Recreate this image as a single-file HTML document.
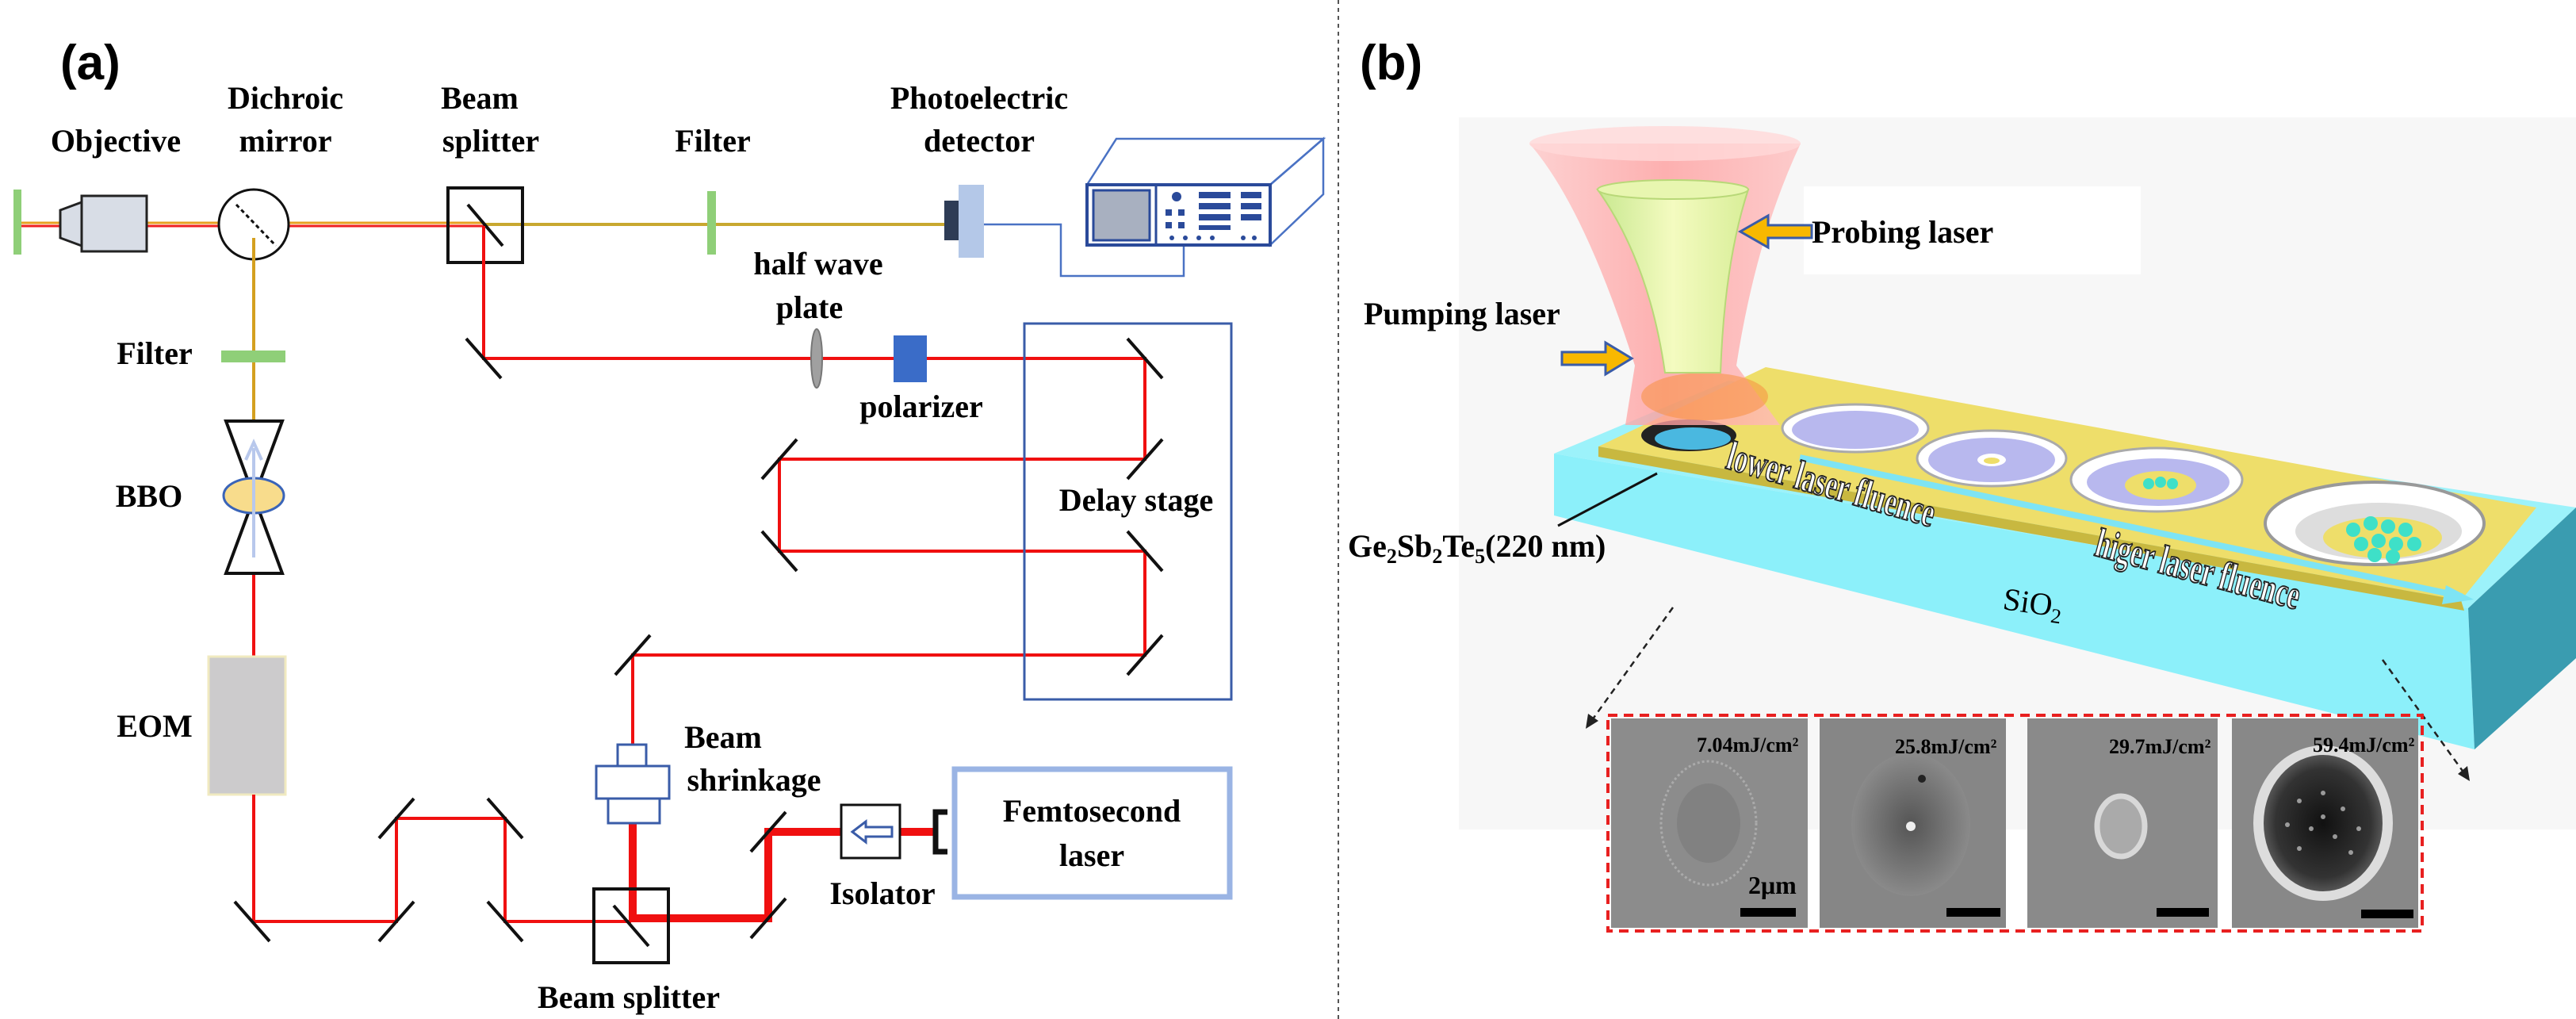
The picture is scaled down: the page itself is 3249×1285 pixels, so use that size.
<!DOCTYPE html>
<html><head><meta charset="utf-8"><style>html,body{margin:0;padding:0;background:#fff}svg{display:block}</style></head>
<body>
<svg width="3249" height="1285" viewBox="0 0 3249 1285" xmlns="http://www.w3.org/2000/svg" font-family="'Liberation Serif',serif" font-weight="bold">
<defs>
<linearGradient id="pink" x1="0" x2="1"><stop offset="0" stop-color="#ffc8c8"/><stop offset="0.5" stop-color="#ff9e9e"/><stop offset="1" stop-color="#ffc0c0"/></linearGradient>
<linearGradient id="grn" x1="0" x2="1"><stop offset="0" stop-color="#c8e890"/><stop offset="0.5" stop-color="#f4fbc0"/><stop offset="1" stop-color="#d8ee98"/></linearGradient>
<radialGradient id="dk"><stop offset="0" stop-color="#111"/><stop offset="0.8" stop-color="#333"/><stop offset="1" stop-color="#555"/></radialGradient>
<radialGradient id="sem2"><stop offset="0" stop-color="#555"/><stop offset="1" stop-color="#8a8a8a"/></radialGradient>
</defs>
<!-- ===== Panel (a) ===== -->
<text x="76" y="100" font-family="'Liberation Sans',sans-serif" font-size="62">(a)</text>
<g font-size="40" text-anchor="middle">
<text x="146" y="191">Objective</text>
<text x="360" y="137">Dichroic</text><text x="360" y="191">mirror</text>
<text x="605" y="137">Beam</text><text x="619" y="191">splitter</text>
<text x="899" y="191">Filter</text>
<text x="1235" y="137">Photoelectric</text><text x="1235" y="191">detector</text>
<text x="195" y="459">Filter</text>
<text x="188" y="639">BBO</text>
<text x="195" y="929">EOM</text>
<text x="1032" y="346">half wave</text><text x="1021" y="401">plate</text>
<text x="1162" y="526">polarizer</text>
<text x="1433" y="644">Delay stage</text>
<text x="912" y="943">Beam</text><text x="951" y="997">shrinkage</text>
<text x="1113" y="1140">Isolator</text>
<text x="1377" y="1036">Femtosecond</text><text x="1377" y="1092">laser</text>
<text x="793" y="1271">Beam splitter</text>
</g>
<!-- top beam -->
<line x1="22" y1="281" x2="610" y2="281" stroke="#e8a020" stroke-width="3"/>
<line x1="22" y1="285" x2="610" y2="285" stroke="#f02020" stroke-width="3"/>
<line x1="610" y1="283" x2="1191" y2="283" stroke="#c8a830" stroke-width="4"/>
<rect x="17" y="239" width="10" height="82" fill="#8fcf78"/>
<polygon points="76,265 103,255 103,310 76,300" fill="#d8dde6" stroke="#222" stroke-width="3"/>
<rect x="103" y="247" width="82" height="70" fill="#d8dde6" stroke="#222" stroke-width="3"/>
<circle cx="320" cy="283" r="44" fill="#fff" stroke="#111" stroke-width="3"/>
<line x1="298" y1="258" x2="348" y2="310" stroke="#111" stroke-width="3" stroke-dasharray="5,4"/>
<rect x="565" y="237" width="94" height="94" fill="none" stroke="#111" stroke-width="4"/>
<line x1="590" y1="258" x2="634" y2="310" stroke="#111" stroke-width="4"/>
<rect x="892" y="241" width="11" height="80" fill="#8fcf78"/>
<rect x="1191" y="253" width="18" height="50" fill="#2e3c56"/>
<rect x="1209" y="233" width="32" height="92" fill="#b4c8e8"/>
<!-- instrument -->
<g stroke="#4a72c4" stroke-width="2.5" fill="none">
<polygon points="1371,233 1408,175 1669,175 1602,233"/>
<polygon points="1602,233 1669,175 1669,245 1602,309"/>
<polyline points="1241,283 1338,283 1338,348 1493,348 1493,309"/>
</g>
<rect x="1371" y="233" width="231" height="76" fill="#fff" stroke="#2a4a9a" stroke-width="4"/>
<rect x="1379" y="240" width="71" height="63" fill="#a8b0c0" stroke="#2a4a9a" stroke-width="3"/>
<line x1="1458" y1="233" x2="1458" y2="309" stroke="#2a4a9a" stroke-width="3"/>
<g fill="#2a4a9a">
<circle cx="1484" cy="248" r="6"/>
<rect x="1512" y="242" width="40" height="8"/><rect x="1512" y="256" width="40" height="8"/><rect x="1512" y="270" width="40" height="8"/><rect x="1512" y="284" width="40" height="6"/>
<rect x="1565" y="242" width="26" height="8"/><rect x="1565" y="256" width="26" height="8"/><rect x="1565" y="270" width="26" height="8"/>
<rect x="1470" y="264" width="8" height="8"/><rect x="1486" y="264" width="8" height="8"/><rect x="1470" y="280" width="8" height="8"/><rect x="1486" y="280" width="8" height="8"/>
<circle cx="1478" cy="300" r="3"/><circle cx="1495" cy="300" r="3"/><circle cx="1512" cy="300" r="3"/><circle cx="1529" cy="300" r="3"/><circle cx="1568" cy="300" r="3"/><circle cx="1582" cy="300" r="3"/>
</g>
<!-- vertical yellow + lower column -->
<line x1="320" y1="300" x2="320" y2="531" stroke="#d4a020" stroke-width="4"/>
<rect x="279" y="442" width="81" height="15" fill="#8fcf78"/>
<line x1="320" y1="723" x2="320" y2="828" stroke="#f01010" stroke-width="4"/>
<polygon points="285,531 356,531 285,723 356,723" fill="#fff" stroke="#111" stroke-width="4"/>
<ellipse cx="320" cy="625" rx="38" ry="22" fill="#f8dc8c" stroke="#3a64b8" stroke-width="3"/>
<line x1="320" y1="703" x2="320" y2="565" stroke="#b8c8ec" stroke-width="4"/>
<polyline points="310,580 320,558 330,580" fill="none" stroke="#b8c8ec" stroke-width="4"/>
<rect x="263" y="828" width="97" height="174" fill="#cccbcc" stroke="#f0eac0" stroke-width="3"/>
<!-- red paths -->
<g stroke="#f01010" stroke-width="4" fill="none">
<polyline points="320,1002 320,1162 500,1162 500,1032 637,1032 637,1162 796,1162"/>
<polyline points="610,285 610,452 1444,452 1444,579 983,579 983,695 1444,695 1444,826 798,826 798,939"/>
</g>
<g stroke="#f01010" stroke-width="10" fill="none">
<polyline points="798,1038 798,1158 969,1158 969,1049 1061,1049"/>
<line x1="1135" y1="1049" x2="1178" y2="1049"/>
</g>
<!-- mirrors -->
<g stroke="#111" stroke-width="4">
<line x1="296" y1="1137" x2="340" y2="1187"/>
<line x1="478" y1="1187" x2="522" y2="1137"/>
<line x1="478" y1="1057" x2="522" y2="1007"/>
<line x1="615" y1="1007" x2="659" y2="1057"/>
<line x1="615" y1="1137" x2="659" y2="1187"/>
<line x1="588" y1="427" x2="632" y2="477"/>
<line x1="1422" y1="427" x2="1466" y2="477"/>
<line x1="1422" y1="604" x2="1466" y2="554"/>
<line x1="961" y1="604" x2="1005" y2="554"/>
<line x1="961" y1="670" x2="1005" y2="720"/>
<line x1="1422" y1="670" x2="1466" y2="720"/>
<line x1="1422" y1="851" x2="1466" y2="801"/>
<line x1="776" y1="851" x2="820" y2="801"/>
<line x1="947" y1="1183" x2="991" y2="1133"/>
<line x1="947" y1="1074" x2="991" y2="1024"/>
</g>
<rect x="749" y="1121" width="94" height="93" fill="none" stroke="#111" stroke-width="4"/>
<line x1="774" y1="1142" x2="818" y2="1193" stroke="#111" stroke-width="4"/>
<ellipse cx="1030" cy="452" rx="7" ry="37" fill="#a0a0a0" stroke="#777" stroke-width="2"/>
<rect x="1127" y="423" width="42" height="59" fill="#3a6cc8"/>
<rect x="1292" y="408" width="261" height="474" fill="none" stroke="#3a5ca8" stroke-width="3"/>
<!-- beam shrinkage -->
<g fill="#fff" stroke="#3a5ca8" stroke-width="3">
<rect x="779" y="939" width="36" height="27"/>
<rect x="752" y="966" width="92" height="41"/>
<rect x="767" y="1007" width="65" height="31"/>
</g>
<!-- isolator -->
<rect x="1061" y="1015" width="74" height="67" fill="#fff" stroke="#111" stroke-width="3"/>
<polygon points="1075,1049 1092,1036 1092,1043 1125,1043 1125,1055 1092,1055 1092,1062" fill="#fff" stroke="#3a5ca8" stroke-width="3"/>
<polyline points="1195,1024 1180,1024 1180,1074 1195,1074" fill="none" stroke="#111" stroke-width="7"/>
<rect x="1204" y="970" width="347" height="161" fill="none" stroke="#9ab4e4" stroke-width="7"/>
<line x1="1688" y1="0" x2="1688" y2="1285" stroke="#555" stroke-width="2" stroke-dasharray="5,5"/>
<!-- ===== Panel (b) ===== -->
<text x="1715" y="100" font-family="'Liberation Sans',sans-serif" font-size="62">(b)</text>
<rect x="1840" y="148" width="1409" height="898" fill="#f7f7f7"/>
<rect x="2275" y="235" width="425" height="111" fill="#fff"/>
<!-- slab -->
<polygon points="1960,572 2180,480 3249,640 3113,767" fill="#9cf2fa"/>
<polygon points="1960,572 3113,767 3121,945 1960,650" fill="#8cf0fa"/>
<polygon points="3113,767 3249,640 3249,830 3121,945" fill="#3a9cb0"/>
<polygon points="2016,563 2227,463 3199,640 3104,757" fill="#eede6a"/>
<polygon points="2016,563 3104,757 3108,770 2016,576" fill="#c8b840"/>
<!-- craters -->
<ellipse cx="2130" cy="549" rx="60" ry="20" fill="#222"/><ellipse cx="2135" cy="553" rx="48" ry="14" fill="#4ab8e0"/>
<ellipse cx="2340" cy="540" rx="92" ry="30" fill="#fff" stroke="#aaa" stroke-width="3"/><ellipse cx="2340" cy="542" rx="80" ry="24" fill="#b8b8ee"/>
<ellipse cx="2512" cy="578" rx="94" ry="35" fill="#fff" stroke="#aaa" stroke-width="3"/><ellipse cx="2512" cy="580" rx="80" ry="28" fill="#b8b8ee"/><ellipse cx="2512" cy="580" rx="18" ry="8" fill="#fff"/><ellipse cx="2512" cy="581" rx="10" ry="4" fill="#eede6a"/>
<ellipse cx="2720" cy="605" rx="108" ry="40" fill="#fff" stroke="#aaa" stroke-width="3"/><ellipse cx="2722" cy="608" rx="90" ry="30" fill="#b8b8ee"/><ellipse cx="2725" cy="612" rx="45" ry="18" fill="#eede6a"/>
<g fill="#3ee0c8"><circle cx="2710" cy="610" r="7"/><circle cx="2725" cy="608" r="7"/><circle cx="2740" cy="610" r="7"/></g>
<ellipse cx="2995" cy="660" rx="138" ry="52" fill="#fff" stroke="#999" stroke-width="4"/><ellipse cx="3000" cy="670" rx="105" ry="36" fill="#ddd"/><ellipse cx="3005" cy="678" rx="75" ry="26" fill="#eede6a"/>
<g fill="#3ee0c8"><circle cx="2968" cy="668" r="9"/><circle cx="2990" cy="660" r="9"/><circle cx="3012" cy="664" r="9"/><circle cx="3034" cy="668" r="9"/><circle cx="2978" cy="686" r="9"/><circle cx="3000" cy="682" r="9"/><circle cx="3022" cy="686" r="9"/><circle cx="3045" cy="686" r="9"/><circle cx="2995" cy="700" r="9"/><circle cx="3018" cy="702" r="9"/></g>
<!-- cyan arrow -->
<line x1="2270" y1="577" x2="3105" y2="752" stroke="#7ee4f4" stroke-width="8"/>
<polygon points="3120,756 3085,738 3080,762" fill="#7ee4f4"/>
<g font-size="40" fill="#fff" stroke="#222" stroke-width="1.5" font-family="'Liberation Serif',serif">
<text transform="translate(2175,590) rotate(16) scale(0.85,1.3)">lower laser fluence</text>
<text transform="translate(2640,700) rotate(15) scale(0.85,1.3)">higer laser fluence</text>
</g>
<!-- cones -->
<path d="M1929,181 Q1998,260 2062,461 L2050,536 L2245,536 L2190,461 Q2215,300 2271,181 Z" fill="url(#pink)" opacity="0.8"/>
<ellipse cx="2100" cy="181" rx="171" ry="22" fill="#ffd8d8" opacity="0.8"/>
<ellipse cx="2150" cy="500" rx="80" ry="30" fill="#f89040" opacity="0.55"/>
<path d="M2015,239 Q2080,330 2100,470 L2170,470 Q2175,330 2205,239 Z" fill="url(#grn)" stroke="#b8d878" stroke-width="2"/>
<ellipse cx="2110" cy="239" rx="95" ry="12" fill="#e8f6b0" stroke="#b8d878" stroke-width="2"/>
<!-- arrows -->
<polygon points="2285,284 2230,284 2230,272 2195,292 2230,312 2230,300 2285,300" fill="#f8b800" stroke="#3a5ca8" stroke-width="3"/>
<polygon points="1970,444 2025,444 2025,432 2058,452 2025,472 2025,460 1970,460" fill="#f8b800" stroke="#3a5ca8" stroke-width="3"/>
<g font-size="40">
<text x="2285" y="306">Probing laser</text>
<text x="1720" y="409">Pumping laser</text>
<text x="1700" y="702">Ge<tspan font-size="26" dy="8">2</tspan><tspan dy="-8">Sb</tspan><tspan font-size="26" dy="8">2</tspan><tspan dy="-8">Te</tspan><tspan font-size="26" dy="8">5</tspan><tspan dy="-8">(220 nm)</tspan></text>
<text x="2525" y="768" font-weight="normal" transform="rotate(8 2525 768)">SiO<tspan font-size="26" dy="8">2</tspan></text>
</g>
<line x1="1965" y1="663" x2="2090" y2="597" stroke="#111" stroke-width="3"/>
<g stroke="#222" stroke-width="2.5" stroke-dasharray="8,6" fill="none">
<line x1="2110" y1="766" x2="2008" y2="908"/><line x1="3005" y1="832" x2="3108" y2="975"/>
</g>
<polygon points="2000,919 2003,900 2016,909" fill="#222"/><polygon points="3115,985 3100,976 3112,966" fill="#222"/>
<!-- SEM -->
<rect x="2032" y="906" width="248" height="264" fill="#8c8c8c"/>
<rect x="2295" y="906" width="235" height="264" fill="#868686"/>
<rect x="2557" y="906" width="240" height="264" fill="#8a8a8a"/>
<rect x="2815" y="906" width="235" height="264" fill="#888"/>
<ellipse cx="2155" cy="1038" rx="60" ry="78" fill="none" stroke="#aaa" stroke-width="3" stroke-dasharray="3,3"/>
<ellipse cx="2155" cy="1038" rx="40" ry="50" fill="#7a7a7a" opacity="0.6"/>
<ellipse cx="2410" cy="1040" rx="75" ry="90" fill="url(#sem2)"/><circle cx="2410" cy="1042" r="6" fill="#eee"/><circle cx="2424" cy="982" r="5" fill="#222"/>
<ellipse cx="2675" cy="1042" rx="30" ry="38" fill="#aaa" stroke="#d8d8d8" stroke-width="7"/>
<ellipse cx="2930" cy="1038" rx="88" ry="98" fill="#ddd"/><ellipse cx="2930" cy="1038" rx="75" ry="86" fill="url(#dk)"/>
<g fill="#ccc" opacity="0.7"><circle cx="2900" cy="1010" r="3"/><circle cx="2930" cy="1000" r="3"/><circle cx="2955" cy="1020" r="3"/><circle cx="2915" cy="1045" r="3"/><circle cx="2945" cy="1055" r="3"/><circle cx="2900" cy="1070" r="3"/><circle cx="2965" cy="1075" r="3"/><circle cx="2930" cy="1030" r="3"/><circle cx="2885" cy="1040" r="3"/><circle cx="2975" cy="1045" r="3"/></g>
<g font-size="26"><text x="2140" y="948">7.04mJ/cm²</text><text x="2390" y="950">25.8mJ/cm²</text><text x="2660" y="950">29.7mJ/cm²</text><text x="2917" y="948">59.4mJ/cm²</text>
<text x="2205" y="1127" font-size="32">2μm</text></g>
<g fill="#000"><rect x="2195" y="1145" width="70" height="11"/><rect x="2455" y="1145" width="68" height="11"/><rect x="2720" y="1145" width="66" height="11"/><rect x="2978" y="1147" width="66" height="11"/></g>
<rect x="2028" y="902" width="1027" height="272" fill="none" stroke="#e82020" stroke-width="4" stroke-dasharray="12,8"/>
</svg>
</body></html>
